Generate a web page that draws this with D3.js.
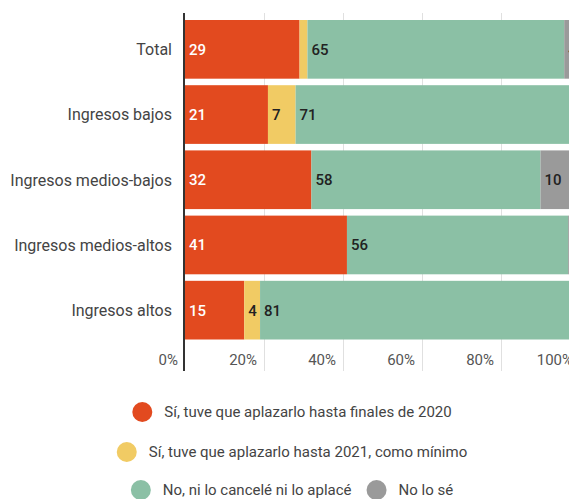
<!DOCTYPE html>
<html lang="es">
<head>
<meta charset="utf-8"/>
<script src="https://d3js.org/d3.v7.min.js"></script>
<style>
  body { margin: 0; background: #fff; }
  svg { font-family: Roboto, sans-serif; }
  .grid line { stroke: #e0e0e0; stroke-width: 1px; }
  .grid .domain { display: none; }
  .ticklab { fill: #555; font-size: 15px; }
  .cat { fill: #444; font-size: 16px; }
  .leg { fill: #444; font-size: 15px; }
</style>
</head>
<body>
<svg id="chart" width="569" height="499"></svg>
<script>
// categories and series (percent)
var categories = ["Total", "Ingresos bajos", "Ingresos medios-bajos", "Ingresos medios-altos", "Ingresos altos"];
var keys = ["finales2020", "hasta2021", "no", "nose"];
var finales2020 = [29, 21, 32, 41, 15];
var hasta2021 = [2, 7, 0, 0, 4];
var noAplace = [65, 71, 58, 56, 81];
var noSe = [4, 1, 10, 3, 0];
var seriesNames = ["Sí, tuve que aplazarlo hasta finales de 2020", "Sí, tuve que aplazarlo hasta 2021, como mínimo", "No, ni lo cancelé ni lo aplacé", "No lo sé"];
var colors = ["#e24a1f", "#f1cb64", "#8bc0a5", "#9a9a9a"];
var ticks = [0, 20, 40, 60, 80, 100];

var data = categories.map(function(c, i) {
  return { cat: c, finales2020: finales2020[i], hasta2021: hasta2021[i], no: noAplace[i], nose: noSe[i] };
});

var svg = d3.select("#chart");

var x = d3.scaleLinear().domain([0, 100]).range([185, 580]);
var y = d3.scaleBand().domain(categories).range([20, 339.5]).paddingInner(0.1).paddingOuter(0);
var z = d3.scaleOrdinal().domain(keys).range(colors);

// gridlines
svg.append("g")
  .attr("class", "grid")
  .attr("transform", "translate(0,13)")
  .call(d3.axisBottom(x).tickValues(ticks.slice(1)).tickSize(358).tickFormat(""));

// tick labels (right of label sits on gridline)
svg.append("g").selectAll("text")
  .data(ticks)
  .enter().append("text")
    .attr("class", "ticklab")
    .attr("x", function(d) { return x(d) - 7; })
    .attr("y", 365)
    .attr("text-anchor", "end")
    .text(function(d) { return d + "%"; });

// stacked bars
var stack = d3.stack().keys(keys)(data);

svg.append("g").selectAll("g")
  .data(stack)
  .enter().append("g")
    .attr("fill", function(d) { return z(d.key); })
  .selectAll("rect")
  .data(function(d) { return d; })
  .enter().append("rect")
    .attr("x", function(d) { return x(d[0]); })
    .attr("y", function(d) { return y(d.data.cat); })
    .attr("width", function(d) { return x(d[1]) - x(d[0]); })
    .attr("height", y.bandwidth());

// value labels (too-thin segments get none)
stack.forEach(function(s, si) {
  svg.append("g").selectAll("text")
    .data(s.filter(function(d) { return d[1] - d[0] > 3; }))
    .enter().append("text")
      .attr("x", function(d) { return x(d[0]) + 4; })
      .attr("y", function(d) { return y(d.data.cat) + y.bandwidth() / 2; })
      .attr("dy", "0.36em")
      .attr("font-size", 15)
      .attr("font-weight", 500)
      .attr("fill", si === 0 ? "#fff" : "#222")
      .text(function(d) { return d[1] - d[0]; });
});

// axis line
svg.append("line")
  .attr("x1", 184).attr("x2", 184)
  .attr("y1", 13).attr("y2", 371)
  .attr("stroke", "#333").attr("stroke-width", 2);

// category labels
svg.append("g").selectAll("text")
  .data(categories)
  .enter().append("text")
    .attr("class", "cat")
    .attr("x", 172)
    .attr("y", function(d) { return y(d) + y.bandwidth() / 2; })
    .attr("dy", "0.36em")
    .attr("text-anchor", "end")
    .text(function(d) { return d; });

// legend, centred rows
var rows = [[0], [1], [2, 3]];
var rowY = [412, 452, 490];
var legCenter = 292;
rows.forEach(function(r, ri) {
  var g = svg.append("g");
  var cx = 0;
  r.forEach(function(k, j) {
    if (j > 0) cx += 15;
    g.append("circle").attr("cx", cx + 10).attr("cy", 0).attr("r", 10).attr("fill", colors[k]);
    var t = g.append("text").attr("class", "leg")
      .attr("x", cx + 32).attr("y", 0).attr("dy", "0.36em")
      .text(seriesNames[k]);
    cx += 32 + t.node().getComputedTextLength();
  });
  g.attr("transform", "translate(" + (legCenter - cx / 2) + "," + rowY[ri] + ")");
});
</script>
</body>
</html>
